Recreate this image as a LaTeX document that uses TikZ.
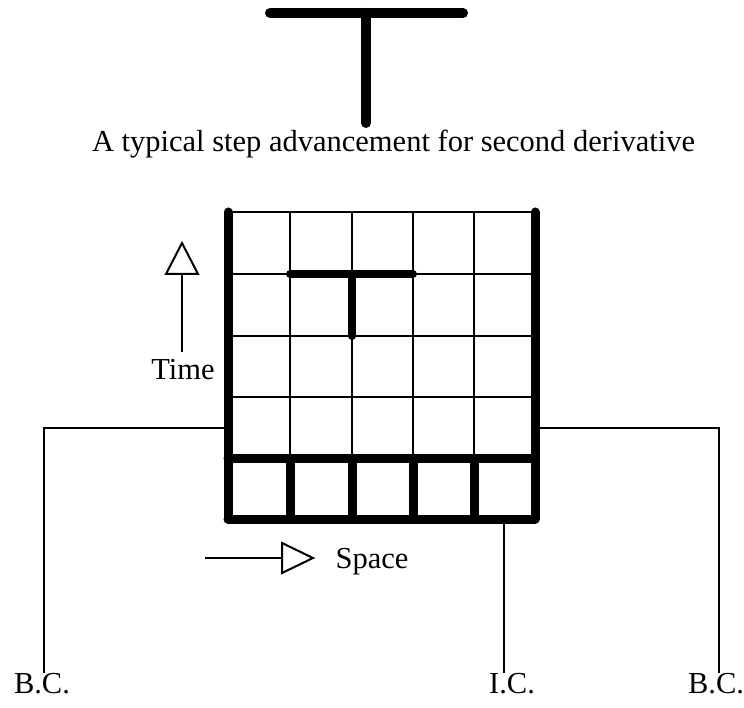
\documentclass[tikz,border=0pt]{standalone}
\usepackage{fontspec}
\setmainfont{Liberation Serif}
\begin{document}
\begin{tikzpicture}[x=1pt,y=-1pt,
  thin line/.style={line width=2pt},
  thick line/.style={line width=9pt,line cap=round,line join=round},
  stencil/.style={line width=10pt,line cap=round},
  label/.style={font=\fontsize{30.5}{36}\selectfont,anchor=base,inner sep=0pt},
  open arrow/.style={line width=2pt},
  arrowhead/.style={line width=2pt,fill=white,line join=miter}]
\useasboundingbox (0,0) rectangle (744,708);

% stencil of the scheme
\draw[stencil] (270,13) -- (463,13);
\draw[stencil] (366,13) -- (366,123);
\node[label] (title) at (393.5,152) {A typical step advancement for second derivative};

% grid coordinates
\foreach \i/\x in {0/228,1/290,2/352,3/413,4/474,5/535}{
  \foreach \j/\y in {0/212,1/274,2/336,3/397,4/458,5/519}{
    \coordinate (g\i\j) at (\x,\y);
  }
}

% interior grid, thin
\foreach \j in {0,1,2,3}{
  \draw[thin line] (g0\j) -- (g5\j);
}
\foreach \i in {1,2,3,4}{
  \draw[thin line] (g\i0) -- (g\i4);
}

% initial-condition row, thick
\draw[thick line] (g04) -- (g54);
\draw[thick line] (g05) -- (g55);
\foreach \i in {1,2,3,4}{
  \draw[thick line] (g\i4) -- (g\i5);
}
% boundaries, thick
\draw[thick line] (g00) -- (g05);
\draw[thick line] (g50) -- (g55);

% stencil inside the grid
\draw[line width=8pt,line cap=round] (g11) -- (g31);
\draw[line width=8pt,line cap=round] (g21) -- (g22);

% time axis
\coordinate (ttail) at (182,352);
\coordinate (thead) at (182,274);
\draw[open arrow] (ttail) -- (thead);
\draw[arrowhead] (166,274) -- (182,243) -- (198,274) -- cycle;
\node[label] (time) at (183,380) {Time};

% space axis
\coordinate (stail) at (205,558);
\coordinate (shead) at (282,558);
\draw[open arrow] (stail) -- (shead);
\draw[arrowhead] (282,543) -- (313,558) -- (282,573) -- cycle;
\node[label] (space) at (372,568) {Space};

% labels for boundary and initial conditions
\node[label] (bcl) at (42,693) {B.C.};
\node[label] (ic) at (512,693) {I.C.};
\node[label] (bcr) at (716,693) {B.C.};

\coordinate (lb) at (228,428);
\coordinate (rb) at (535,428);
\coordinate (ib) at (504,519);
\draw[thin line] (lb) -- (44,428) -- (44,673);
\draw[thin line] (rb) -- (719,428) -- (719,673);
\draw[thin line] (ib) -- (504,673);
\end{tikzpicture}
\end{document}
